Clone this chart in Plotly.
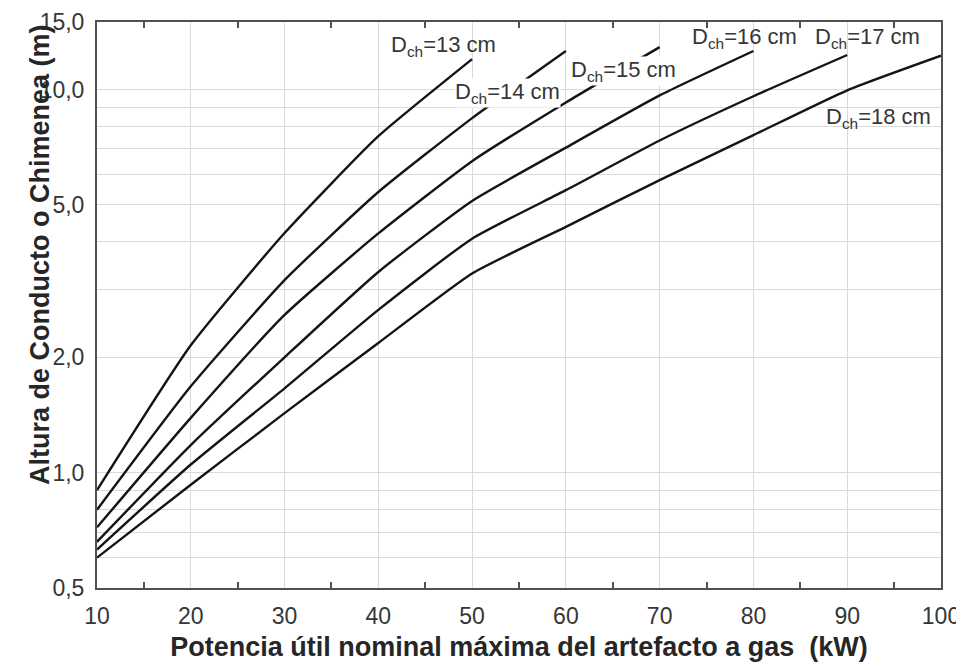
import math
import plotly.graph_objects as go

# ── Data (height in m vs nominal power in kW) ────────────────────────────────
POT = [10, 20, 30, 40, 50, 60, 70, 80, 90, 100]
D13 = [0.90, 2.15, 4.22, 7.55, 12.0]
D14 = [0.80, 1.68, 3.18, 5.40, 8.42, 12.6]
D15 = [0.72, 1.39, 2.58, 4.21, 6.50, 9.25, 12.9]
D16 = [0.66, 1.18, 2.00, 3.34, 5.12, 7.05, 9.65, 12.6]
D17 = [0.63, 1.05, 1.66, 2.66, 4.08, 5.46, 7.36, 9.60, 12.3]
D18 = [0.60, 0.93, 1.43, 2.18, 3.31, 4.38, 5.80, 7.60, 9.95, 12.25]

SERIES = [("13", D13), ("14", D14), ("15", D15),
          ("16", D16), ("17", D17), ("18", D18)]

Y_GRID = [0.5, 0.6, 0.7, 0.8, 0.9, 1, 2, 3, 4, 5, 6, 7, 8, 9, 10, 15]
Y_LABELS = {0.5: "0,5", 1: "1,0", 2: "2,0", 5: "5,0", 10: "10,0", 15: "15,0"}

# label anchor per curve: (x in kW, y in m, white box to cut the curve)
LABEL_POS = {
    "13": (47.0, 13.0, False),
    "14": (53.8, 9.8, True),
    "15": (66.1, 11.2, True),
    "16": (79.0, 13.65, False),
    "17": (92.2, 13.6, False),
    "18": (93.3, 8.4, False),
}

FONT = "Liberation Sans, Arial, Helvetica, sans-serif"
_TXT = "#363636"
_GRID = "#dadada"
_AXIS = "#505050"

fig = go.Figure()

for d, vals in SERIES:
    fig.add_trace(go.Scatter(
        x=POT[:len(vals)], y=vals, mode="lines",
        line=dict(color="#141414", width=2.4, shape="spline", smoothing=0.5),
        name=f"D={d} cm", showlegend=False, hoverinfo="x+y",
    ))

# empty trace on the top axis so its inner ticks get drawn
fig.add_trace(go.Scatter(x=[], y=[], xaxis="x2", showlegend=False))

for d, (lx, ly, box) in LABEL_POS.items():
    fig.add_annotation(
        x=lx, y=math.log10(ly), xref="x", yref="y",
        text=f"D<sub>ch</sub>={d} cm",
        showarrow=False, font=dict(family=FONT, size=22, color=_TXT),
        bgcolor="white" if box else "rgba(0,0,0,0)", borderpad=0,
    )

# y title is placed by hand: it sits above the centre of the axis
fig.add_annotation(
    x=-0.0877, y=0.59, xref="paper", yref="paper",
    text="<b>Altura de Conducto o Chimenea (m)</b>",
    textangle=-90, showarrow=False,
    font=dict(family=FONT, size=27, color="#262626"),
)

minor_ticks = dict(tick0=5, dtick=5, ticks="inside", ticklen=6,
                   tickwidth=2, tickcolor=_AXIS, showgrid=False)

# the page body adds an 8 px offset, so the figure is 8 px smaller
fig.update_layout(
    width=956, height=662,
    margin=dict(l=89, r=23, t=14, b=82, autoexpand=False),
    paper_bgcolor="white", plot_bgcolor="white",
    font=dict(family=FONT, size=23, color=_TXT),
    xaxis=dict(
        range=[10, 100], tickmode="linear", tick0=10, dtick=10,
        showgrid=True, gridcolor=_GRID, gridwidth=1,
        showline=True, linecolor=_AXIS, linewidth=2, mirror=True,
        ticks="", zeroline=False, ticklabelstandoff=6, automargin=False,
        minor=minor_ticks,
        title=dict(text="<b>Potencia útil nominal máxima del artefacto a gas\u00a0 (kW)</b>",
                   font=dict(family=FONT, size=27, color="#262626"), standoff=10),
    ),
    xaxis2=dict(
        overlaying="x", matches="x", side="top", range=[10, 100],
        showticklabels=False, showgrid=False, showline=False, zeroline=False,
        tickmode="linear", tick0=10, dtick=10, ticks="", automargin=False,
        minor=minor_ticks,
    ),
    yaxis=dict(
        type="log", range=[math.log10(0.5), math.log10(15)],
        tickmode="array", tickvals=Y_GRID,
        ticktext=[Y_LABELS.get(v, "") for v in Y_GRID],
        showgrid=True, gridcolor=_GRID, gridwidth=1,
        showline=True, linecolor=_AXIS, linewidth=2, mirror=True,
        ticks="", zeroline=False, ticklabelstandoff=6, automargin=False,
    ),
)

fig.write_html("out.html")
